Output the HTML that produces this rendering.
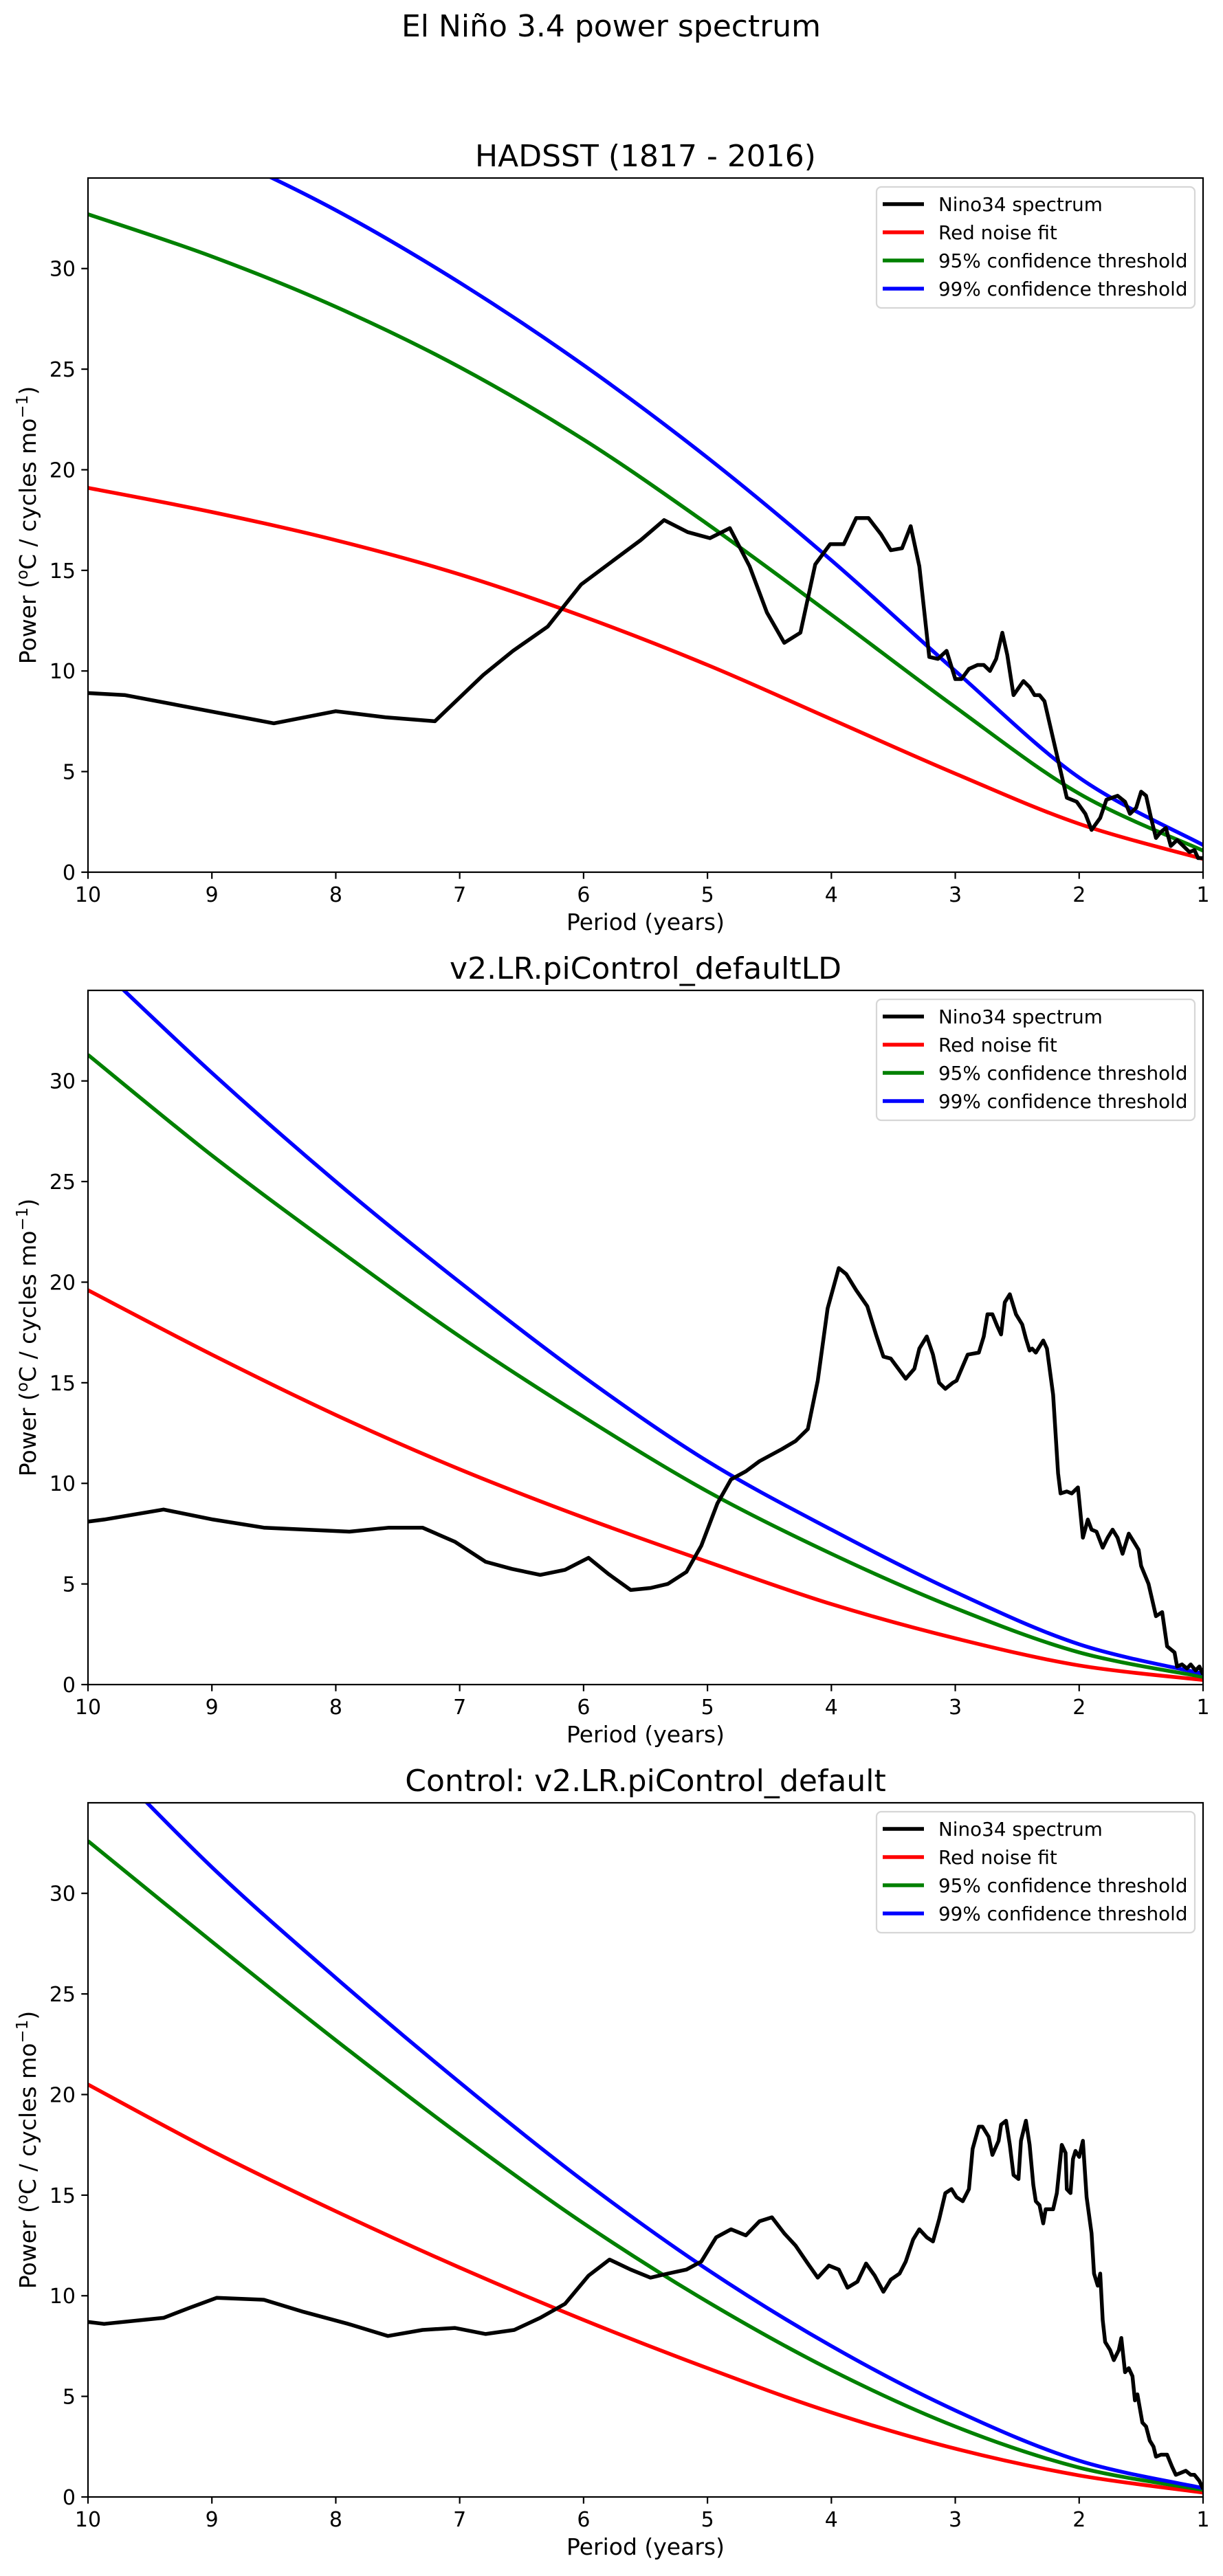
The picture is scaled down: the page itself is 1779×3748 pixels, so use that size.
<!DOCTYPE html>
<html><head><meta charset="utf-8"><title>El Niño 3.4 power spectrum</title>
<style>
html,body{margin:0;padding:0;background:#fff;}
svg{display:block;font-family:"DejaVu Sans","Liberation Sans",sans-serif;}
</style></head>
<body>
<svg id="fig" xmlns="http://www.w3.org/2000/svg" width="1779" height="3748" viewBox="0 0 1779 3748">
<rect x="0" y="0" width="1779" height="3748" fill="#fff"/>
<text x="889" y="53" font-size="44" text-anchor="middle">El Niño 3.4 power spectrum</text>
</svg>
<script>
// ---- data ----
const curvePeriods = [10,9,8,7,6,5,4,3,2,1];
const xTicks = [10,9,8,7,6,5,4,3,2,1];
const yTicks = [0,5,10,15,20,25,30];
const panelTitles = ["HADSST (1817 - 2016)", "v2.LR.piControl_defaultLD", "Control: v2.LR.piControl_default"];
const legendLabels = ["Nino34 spectrum","Red noise fit","95% confidence threshold","99% confidence threshold"];

const p1Periods = [10,9.7,8.5,8.0,7.6,7.2,6.81,6.57,6.29,6.02,5.54,5.35,5.16,4.98,4.82,4.66,4.52,4.38,4.25,4.13,4.01,3.90,3.80,3.70,3.60,3.52,3.43,3.36,3.29,3.21,3.14,3.07,3.00,2.95,2.89,2.82,2.77,2.72,2.67,2.62,2.58,2.53,2.45,2.40,2.36,2.32,2.28,2.19,2.10,2.02,1.95,1.90,1.83,1.78,1.69,1.63,1.59,1.54,1.50,1.46,1.42,1.38,1.34,1.30,1.26,1.21,1.16,1.11,1.07,1.04,1.0];
const p1Spectrum = [8.9,8.8,7.4,8.0,7.7,7.5,9.8,11.0,12.2,14.3,16.5,17.5,16.9,16.6,17.1,15.2,12.9,11.4,11.9,15.3,16.3,16.3,17.6,17.6,16.8,16.0,16.1,17.2,15.2,10.7,10.6,11.0,9.6,9.6,10.1,10.3,10.3,10.0,10.6,11.9,10.8,8.8,9.5,9.2,8.8,8.8,8.5,6.1,3.7,3.5,2.9,2.1,2.7,3.6,3.8,3.5,2.9,3.2,4.0,3.8,2.7,1.7,2.0,2.2,1.3,1.6,1.3,1.0,1.1,0.7,0.7];
const p1Red = [19.1,17.9,16.5,14.8,12.7,10.3,7.6,4.9,2.4,0.66];
const p1Green = [32.7,30.6,28.1,25.1,21.5,17.3,12.8,8.2,3.9,1.07];
const p1Blue = [38.5,35.9,32.9,29.3,25.2,20.6,15.5,10.0,4.7,1.35];

const p2Periods = [10,9.87,9.39,8.99,8.58,7.89,7.57,7.30,7.04,6.79,6.58,6.35,6.15,5.96,5.80,5.62,5.46,5.32,5.17,5.05,4.92,4.81,4.69,4.58,4.40,4.29,4.19,4.11,4.03,3.94,3.88,3.80,3.71,3.64,3.58,3.52,3.40,3.33,3.29,3.23,3.18,3.13,3.08,3.02,2.99,2.90,2.81,2.77,2.74,2.70,2.66,2.63,2.60,2.56,2.51,2.46,2.43,2.40,2.38,2.35,2.29,2.26,2.21,2.17,2.15,2.10,2.06,2.01,1.97,1.93,1.90,1.86,1.81,1.77,1.73,1.69,1.65,1.60,1.56,1.52,1.50,1.44,1.38,1.33,1.29,1.23,1.21,1.17,1.13,1.10,1.06,1.03,1.0];
const p2Spectrum = [8.1,8.2,8.7,8.2,7.8,7.6,7.8,7.8,7.1,6.1,5.75,5.45,5.7,6.3,5.5,4.7,4.8,5.0,5.6,6.9,9.0,10.2,10.6,11.1,11.7,12.1,12.7,15.1,18.7,20.7,20.4,19.6,18.8,17.4,16.3,16.2,15.2,15.7,16.7,17.3,16.4,15.0,14.7,15.0,15.1,16.4,16.5,17.3,18.4,18.4,17.8,17.4,19.0,19.4,18.4,17.9,17.2,16.6,16.7,16.5,17.1,16.7,14.4,10.5,9.5,9.6,9.5,9.8,7.3,8.2,7.7,7.6,6.8,7.3,7.7,7.3,6.5,7.5,7.1,6.7,5.9,5.0,3.4,3.6,1.9,1.6,0.9,1.0,0.8,1.0,0.7,0.9,0.5];
const p2Red = [19.6,16.4,13.4,10.7,8.3,6.1,4.0,2.3,0.95,0.23];
const p2Green = [31.3,26.3,21.7,17.3,13.3,9.6,6.5,3.8,1.6,0.38];
const p2Blue = [36.2,30.4,25.0,20.0,15.3,11.1,7.7,4.6,2.0,0.54];

const p3Periods = [10,9.87,9.39,9.18,8.96,8.58,8.26,7.90,7.58,7.30,7.04,6.79,6.56,6.35,6.15,5.96,5.79,5.62,5.46,5.32,5.17,5.05,4.93,4.81,4.69,4.58,4.48,4.38,4.29,4.19,4.11,4.02,3.94,3.87,3.79,3.72,3.65,3.58,3.52,3.45,3.40,3.34,3.29,3.23,3.18,3.13,3.08,3.03,2.99,2.94,2.89,2.86,2.81,2.78,2.73,2.70,2.65,2.63,2.59,2.56,2.53,2.49,2.47,2.43,2.40,2.37,2.35,2.32,2.29,2.27,2.21,2.18,2.14,2.11,2.10,2.07,2.05,2.03,2.00,1.97,1.94,1.90,1.88,1.85,1.83,1.81,1.79,1.75,1.72,1.68,1.66,1.63,1.60,1.57,1.55,1.53,1.49,1.46,1.43,1.40,1.38,1.34,1.29,1.25,1.22,1.18,1.14,1.10,1.07,1.03,1.0];
const p3Spectrum = [8.7,8.6,8.9,9.4,9.9,9.8,9.2,8.6,8.0,8.3,8.4,8.1,8.3,8.9,9.6,11.0,11.8,11.3,10.9,11.1,11.3,11.7,12.9,13.3,13.0,13.7,13.9,13.1,12.5,11.6,10.9,11.5,11.3,10.4,10.7,11.6,11.0,10.2,10.8,11.1,11.7,12.8,13.3,12.9,12.7,13.8,15.1,15.3,14.9,14.7,15.3,17.3,18.4,18.4,17.9,17.0,17.7,18.5,18.7,17.5,16.0,15.8,17.7,18.7,17.5,15.5,14.7,14.5,13.6,14.3,14.3,15.1,17.5,17.1,15.3,15.1,16.8,17.2,16.9,17.7,14.9,13.1,11.1,10.5,11.1,8.8,7.7,7.3,6.8,7.3,7.9,6.2,6.4,6.0,4.8,5.1,3.7,3.5,2.8,2.5,2.0,2.1,2.1,1.5,1.1,1.2,1.3,1.1,1.1,0.8,0.4];
const p3Red = [20.5,17.2,14.2,11.4,8.8,6.4,4.2,2.4,1.07,0.22];
const p3Green = [32.6,27.6,22.7,18.0,13.6,9.7,6.3,3.5,1.46,0.35];
const p3Blue = [37.5,31.3,25.8,20.6,15.7,11.3,7.5,4.3,1.8,0.44];

// ---- layout ----
const NS = "http://www.w3.org/2000/svg";
const svg = document.getElementById('fig');
const AX_L = 128, AX_R = 1750, AX_H = 1010, Y_MAX = 34.5;
const panelTops = [259, 1441, 2623];
const panels = [
  {periods:p1Periods, spec:p1Spectrum, red:p1Red, green:p1Green, blue:p1Blue},
  {periods:p2Periods, spec:p2Spectrum, red:p2Red, green:p2Green, blue:p2Blue},
  {periods:p3Periods, spec:p3Spectrum, red:p3Red, green:p3Green, blue:p3Blue}
];
function mk(tag, attrs, parent){
  const e = document.createElementNS(NS, tag);
  for (const k in attrs) e.setAttribute(k, attrs[k]);
  (parent||svg).appendChild(e);
  return e;
}
function xScale(p){ return AX_L + (10 - p) / 9 * (AX_R - AX_L); }
function makeY(top){ return v => top + AX_H - v / Y_MAX * AX_H; }
function smoothPath(pts){
  let d = 'M' + pts[0][0].toFixed(1) + ',' + pts[0][1].toFixed(1);
  for (let i = 0; i < pts.length - 1; i++){
    const p0 = pts[Math.max(0,i-1)], p1 = pts[i], p2 = pts[i+1], p3 = pts[Math.min(pts.length-1,i+2)];
    const c1x = p1[0] + (p2[0]-p0[0])/6, c1y = p1[1] + (p2[1]-p0[1])/6;
    const c2x = p2[0] - (p3[0]-p1[0])/6, c2y = p2[1] - (p3[1]-p1[1])/6;
    d += ' C' + c1x.toFixed(1)+','+c1y.toFixed(1)+' '+c2x.toFixed(1)+','+c2y.toFixed(1)+' '+p2[0].toFixed(1)+','+p2[1].toFixed(1);
  }
  return d;
}
const colors = ['#000000','#ff0000','#008000','#0000ff'];

panels.forEach((pd, pi) => {
  const top = panelTops[pi];
  const bot = top + AX_H;
  const yS = makeY(top);
  const g = mk('g', {});
  
  

  const title = mk('text', {x:(AX_L+AX_R)/2, y:top-17, 'font-size':44, 'text-anchor':'middle'}, g);
  title.textContent = panelTitles[pi];
  
  

  const clipId = 'clip' + pi;
  const cp = mk('clipPath', {id:clipId}, g);
  mk('rect', {x:AX_L, y:top, width:AX_R-AX_L, height:AX_H}, cp);

  const series = [pd.red, pd.green, pd.blue];
  const names = ['red-noise-fit-line','confidence-95-line','confidence-99-line'];
  series.forEach((vals, si) => {
    const pts = curvePeriods.map((p, i) => [xScale(p), yS(vals[i])]);
    const path = mk('path', {d:smoothPath(pts), fill:'none', stroke:colors[si+1], 'stroke-width':5.5, 'clip-path':'url(#'+clipId+')'}, g);
    
    
  });
  const spec = mk('polyline', {points: pd.periods.map((p,i) => xScale(p).toFixed(1)+','+yS(pd.spec[i]).toFixed(1)).join(' '),
    fill:'none', stroke:'#000', 'stroke-width':5.5, 'stroke-linejoin':'round', 'clip-path':'url(#'+clipId+')'}, g);
  
  

  const frame = mk('rect', {x:AX_L, y:top, width:AX_R-AX_L, height:AX_H, fill:'none', stroke:'#000', 'stroke-width':2.2}, g);
  
  

  xTicks.forEach(t => {
    const x = xScale(t);
    mk('line', {x1:x, x2:x, y1:bot, y2:bot+9.7, stroke:'#000', 'stroke-width':2.2}, g);
    const lbl = mk('text', {x:x, y:bot+43, 'font-size':30, 'text-anchor':'middle'}, g);
    lbl.textContent = t;
    
    
  });
  yTicks.forEach(t => {
    const y = yS(t);
    mk('line', {x1:AX_L-9.7, x2:AX_L, y1:y, y2:y, stroke:'#000', 'stroke-width':2.2}, g);
    const lbl = mk('text', {x:AX_L-18, y:y+11, 'font-size':30, 'text-anchor':'end'}, g);
    lbl.textContent = t;
    
    
  });
  const xl = mk('text', {x:(AX_L+AX_R)/2, y:bot+84, 'font-size':33, 'text-anchor':'middle'}, g);
  xl.textContent = 'Period (years)';
  
  

  const yl = mk('text', {transform:'translate(52,'+(top+AX_H/2)+') rotate(-90)', 'font-size':33, 'text-anchor':'middle'}, g);
  
  
  yl.innerHTML = 'Power (<tspan font-size="23" dy="-12">o</tspan><tspan dy="12">C / cycles mo</tspan><tspan font-size="23" dy="-12">−1</tspan><tspan dy="12">)</tspan>';

  const lg = mk('g', {}, g);
  
  
  const lt = top + 13;
  mk('rect', {x:1275, y:lt, width:463, height:176, rx:7, fill:'#fff', 'fill-opacity':0.8, stroke:'#d6d6d6', 'stroke-width':2.2}, lg);
  legendLabels.forEach((lab, i) => {
    const cy = lt + 25 + i * 41;
    const ln = mk('line', {x1:1284, x2:1344, y1:cy, y2:cy, stroke:colors[i], 'stroke-width':5.5}, lg);
    
    
    const tx = mk('text', {x:1365, y:cy+10, 'font-size':27.8}, lg);
    tx.textContent = lab;
    
    
  });
});
</script>
</body></html>
